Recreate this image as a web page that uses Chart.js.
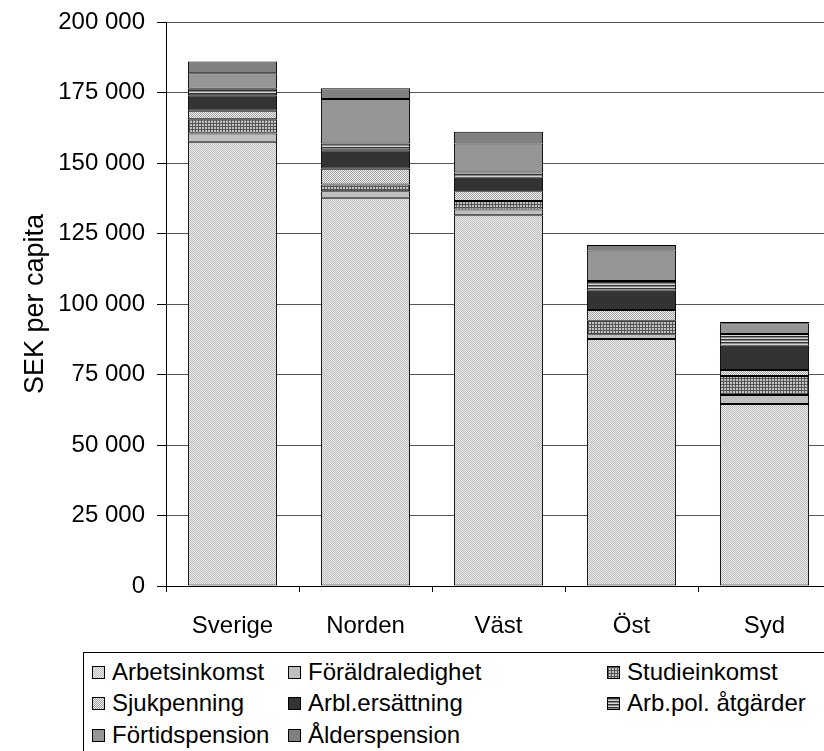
<!DOCTYPE html>
<html>
<head>
<meta charset="utf-8">
<script src="https://cdn.jsdelivr.net/npm/chart.js@4"></script>
<style>
    html, body { margin: 0; padding: 0; background: #fff; overflow: hidden; }
    #wrap { position: absolute; left: 0; top: 0; width: 832px; height: 645px; }
    #legend {
        position: absolute; left: 83px; top: 652px; width: 780px; height: 130px;
        border: 1px solid #000; font-family: "Liberation Sans", Arial, sans-serif;
        font-size: 24px; color: #000;
    }
    .item { position: absolute; height: 28px; line-height: 28px; white-space: nowrap; }
    .item span { display: inline-block; width: 11px; height: 11px; border: 1px solid #000;
        margin-right: 7px; vertical-align: 1px; }
</style>
</head>
<body>
<div id="wrap"><canvas id="grafico" width="832" height="645"></canvas></div>
<div id="legend"></div>
<script>
const categorias = ['Sverige', 'Norden', 'Väst', 'Öst', 'Syd'];

const arbetsinkomst    = [157500, 137700, 131500, 87600, 64500];
const foraldraledighet = [3000, 2300, 2000, 1700, 3200];
const studieinkomst    = [5000, 2400, 3000, 4800, 6800];
const sjukpenning      = [3000, 5600, 3500, 3800, 2100];
const arblErsattning   = [5500, 6500, 4800, 6800, 8600];
const arbPolAtgarder   = [2300, 2400, 1800, 3500, 4200];
const fortidspension   = [5500, 15800, 10300, 10800, 3800];
const alderspension    = [4200, 3800, 4200, 1900, 400];

const nombres = ['Arbetsinkomst', 'Föräldraledighet', 'Studieinkomst', 'Sjukpenning',
                 'Arbl.ersättning', 'Arb.pol. åtgärder', 'Förtidspension', 'Ålderspension'];

// small canvases used as fill patterns
function patron(w, h, dibujar) {
    const c = document.createElement('canvas');
    c.width = w; c.height = h;
    dibujar(c.getContext('2d'));
    return c;
}
function solido(color) {
    return patron(2, 2, ctx => { ctx.fillStyle = color; ctx.fillRect(0, 0, 2, 2); });
}

const texturas = [
    patron(2, 2, ctx => {
        ctx.fillStyle = '#ebebeb'; ctx.fillRect(0, 0, 2, 2);
        ctx.fillStyle = '#bcbcbc'; ctx.fillRect(0, 0, 1, 1); ctx.fillRect(1, 1, 1, 1);
    }),
    solido('#c0c0c0'),
    patron(3, 3, ctx => {
        ctx.fillStyle = '#c4c4c4'; ctx.fillRect(0, 0, 3, 3);
        ctx.fillStyle = '#555'; ctx.fillRect(0, 0, 3, 1); ctx.fillRect(0, 0, 1, 3);
    }),
    patron(2, 2, ctx => {
        ctx.fillStyle = '#f0f0f0'; ctx.fillRect(0, 0, 2, 2);
        ctx.fillStyle = '#a0a0a0'; ctx.fillRect(0, 0, 1, 1); ctx.fillRect(1, 1, 1, 1);
    }),
    solido('#333333'),
    patron(3, 3, ctx => {
        ctx.fillStyle = '#d8d8d8'; ctx.fillRect(0, 0, 3, 3);
        ctx.fillStyle = '#333'; ctx.fillRect(0, 0, 3, 1);
        ctx.fillStyle = '#8a8a8a'; ctx.fillRect(0, 1, 3, 1);
    }),
    solido('#969696'),
    solido('#808080')
];

const elemGrafico = document.getElementById('grafico');
const ctx = elemGrafico.getContext('2d');
const series = [arbetsinkomst, foraldraledighet, studieinkomst, sjukpenning,
                arblErsattning, arbPolAtgarder, fortidspension, alderspension];

const fuente = '"Liberation Sans", Arial, sans-serif';

function formatear(v) {
    return String(v).replace(/\B(?=(\d{3})+(?!\d))/g, ' ');
}

new Chart(elemGrafico, {
    type: 'bar',
    data: {
        labels: categorias,
        datasets: series.map((datos, i) => ({
            label: nombres[i],
            data: datos,
            backgroundColor: ctx.createPattern(texturas[i], 'repeat'),
            borderColor: '#000',
            borderWidth: 1,
            borderSkipped: false,
            barPercentage: 0.67,
            categoryPercentage: 1.0
        }))
    },
    options: {
        responsive: false,
        animation: false,
        layout: { padding: { top: 22, right: 1, bottom: 0, left: 0 } },
        plugins: {
            legend: { display: false },
            tooltip: { enabled: false }
        },
        scales: {
            x: {
                stacked: true,
                offset: true,
                grid: { offset: true, drawOnChartArea: false, drawTicks: true, tickLength: 6, tickColor: '#000' },
                border: { color: '#000' },
                ticks: { color: '#000', font: { family: fuente, size: 24 }, padding: 20 },
                afterFit: (escala) => { escala.height = 59; }
            },
            y: {
                stacked: true,
                min: 0,
                max: 200000,
                ticks: {
                    stepSize: 25000,
                    color: '#000',
                    padding: 12,
                    font: { family: fuente, size: 24 },
                    callback: (v) => formatear(v)
                },
                grid: { color: '#555', tickColor: '#000', tickLength: 9 },
                border: { color: '#000' },
                title: {
                    display: true,
                    text: 'SEK per capita',
                    color: '#000',
                    font: { family: fuente, size: 27 },
                    padding: { top: 19, bottom: 0 }
                },
                afterFit: (escala) => {
                    escala.width = 166;
                    escala.paddingTop = 0;
                    escala.paddingBottom = 0;
                }
            }
        }
    }
});

// legend laid out in three columns like the original
const elemLeyenda = document.getElementById('legend');
const columnas = [8, 204, 523];
const filas = [5, 36, 68];
nombres.forEach((nombre, i) => {
    const div = document.createElement('div');
    div.className = 'item';
    div.style.left = columnas[i % 3] + 'px';
    div.style.top = filas[Math.floor(i / 3)] + 'px';
    const muestra = document.createElement('span');
    muestra.style.backgroundImage = `url(${texturas[i].toDataURL()})`;
    div.appendChild(muestra);
    div.appendChild(document.createTextNode(nombre));
    elemLeyenda.appendChild(div);
});
</script>
</body>
</html>
